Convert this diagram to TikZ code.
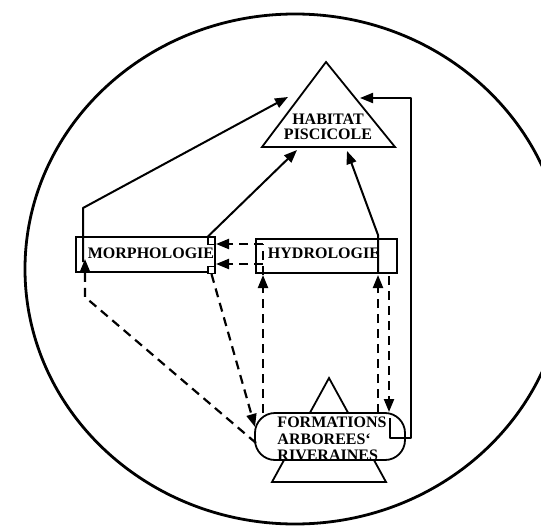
\documentclass[tikz,border=0pt]{standalone}
\usepackage{fontspec}
\setmainfont{Liberation Serif}
\usetikzlibrary{arrows.meta}
\begin{document}
\begin{tikzpicture}[x=1pt,y=-1pt,
  lbl/.style={font=\bfseries\fontsize{16}{15.5}\selectfont, align=center, inner sep=0pt},
  frame/.style={draw, line width=1.4pt, fill=white, inner sep=0pt},
  corner/.style={draw, line width=1.1pt, fill=white, minimum size=7pt, inner sep=0pt},
  link/.style={line width=2pt, line join=round, -{Triangle[length=13pt,width=10pt]}},
  dlink/.style={line width=2.2pt, dash pattern=on 9pt off 6pt, -{Triangle[length=13pt,width=10pt]}},
  dline/.style={line width=2.2pt, dash pattern=on 9pt off 6pt},
]
\useasboundingbox (0,0) rectangle (541,527);

% outer boundary
\begin{scope}
  \clip (0,0) rectangle (541,527);
  \draw[line width=2.8pt] (295,269) ellipse [x radius=270, y radius=255];
\end{scope}

% habitat triangle
\draw[line width=1.8pt, line join=miter] (326,62) -- (262,147) -- (395,147) -- cycle;
\node[lbl] (habitat) at (328,127) {HABITAT\\PISCICOLE};

% riparian formations: triangle behind a rounded box
\draw[line width=1.8pt] (329,378) -- (272,482) -- (386,482) -- cycle;
\node[frame, line width=1.8pt, rounded corners=20pt, minimum width=150pt, minimum height=47pt] (form) at (330,436.5) {};
\node[lbl, align=left, font=\bfseries\fontsize{16}{16.5}\selectfont] (formtxt) at (332,439)
  {FORMATIONS\\ARBOREES`\\RIVERAINES};

% the two middle boxes
\node[frame, minimum width=139pt, minimum height=35pt] (morph) at (145.5,254.5) {};
\node[lbl] (morphtxt) at (151,253) {MORPHOLOGIE};
\node[frame, minimum width=141pt, minimum height=34pt] (hydro) at (326.5,256) {};
\node[lbl] (hydrotxt) at (324,253) {HYDROLOGIE};
\node[corner] (mtr) at (211.5,241) {};
\node[corner] (mbr) at (211.5,270) {};

% arrow end points on the habitat triangle
\coordinate (habL) at (288,97);
\coordinate (habB1) at (297,150);
\coordinate (habB2) at (347,151);
\coordinate (habR) at (360,98);

% solid links towards the habitat
\draw[link] (83,262) -- (83,208) -- (habL);
\draw[link] (mtr.north west) -- (habB1);
\draw[link] (378,273) -- (378,235) -- (habB2);
\draw[link] (390,418) -- (390,438) -- (411,438) -- (411,98) -- (habR);

% dashed influences
\draw[dlink] (256,443) -- (85,297) -- (85,259);
\draw[dlink] (mbr.south) -- (255,427);
\draw[dlink] (263,413) -- (263,275);
\draw[dline] (263,275) -- (263,244);
\draw[dlink] (263,244) -- (216,244);
\draw[dlink] (263,264) -- (216,264);
\draw[dlink] (378,413) -- (378,275);
\draw[dlink] (389,276) -- (389,412);
\end{tikzpicture}
\end{document}
